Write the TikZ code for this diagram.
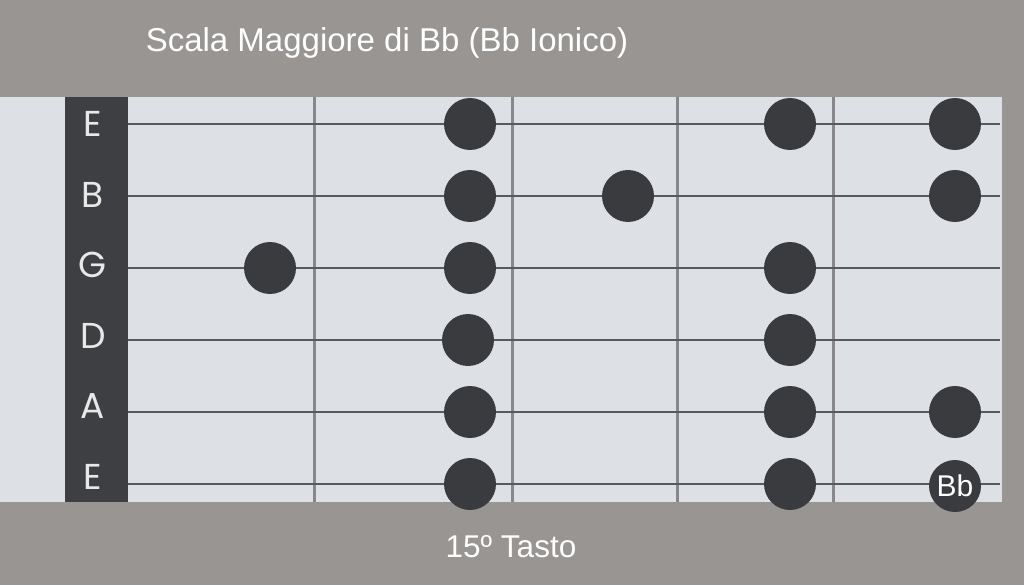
\documentclass[tikz,border=0pt]{standalone}
\usepackage{fontspec}
\setmainfont{Liberation Sans}
\newfontfamily\nutfont{Poppins}
\definecolor{bandgray}{RGB}{152,149,147}
\definecolor{boardlight}{RGB}{221,225,229}
\definecolor{nutdark}{RGB}{62,63,67}
\definecolor{dotdark}{RGB}{58,59,63}
\definecolor{stringgray}{RGB}{88,89,93}
\definecolor{fretgray}{RGB}{135,135,140}
\tikzset{
  fretline/.style={fretgray, line width=3pt},
  stringline/.style={stringgray, line width=2pt},
  nutlabel/.style={font=\nutfont\fontsize{36}{40}\selectfont, text=white!88!nutdark, inner sep=0pt},
  notedot/.style={circle, fill=dotdark, minimum size=52pt, inner sep=0pt},
  caption/.style={font=\fontsize{31.5}{36}\selectfont, text=white, anchor=base, inner sep=0pt}
}
\begin{document}
\begin{tikzpicture}[x=1pt, y=-1pt, line join=round]
		\def\ytop{97} \def\ybot{502}
		\useasboundingbox[fill=bandgray] (0,0) rectangle (1024,585);
		\fill[boardlight] (0,\ytop) rectangle (1002,\ybot);
		\fill[nutdark] (65,\ytop) rectangle (128,\ybot);
		%\draw[color=gray!50,dashed] (0,0) grid[step=50] (1024,585);
		\foreach \x in {314,512,677,833}
			\draw[fretline] (\x,\ytop)--(\x,\ybot);
		\foreach \s [count=\i from 0] in {E,B,G,D,A,E} {
			\draw[stringline] (128,124+72*\i)--(1000,124+72*\i);
			\node[nutlabel] (nut\i) at (93,124+70.6*\i) {\s};
		}
		\foreach \x/\i [count=\n] in {470/0,790/0,955/0,470/1,628/1,955/1,270/2,470/2,790/2,
			468/3,790/3,470/4,790/4,955/4,470/5,790/5}
			\node[notedot] (dot\n) at (\x,124+72*\i) {};
		\node[notedot, text=white, font=\fontsize{30}{32}\selectfont] (root) at (955,486) {Bb};
		\node[caption, font=\fontsize{33}{38}\selectfont] (title) at (387,52) {Scala Maggiore di Bb (Bb Ionico)};
		\node[caption] (fretno) at (511,557) {15º Tasto};
	\end{tikzpicture}
\end{document}
